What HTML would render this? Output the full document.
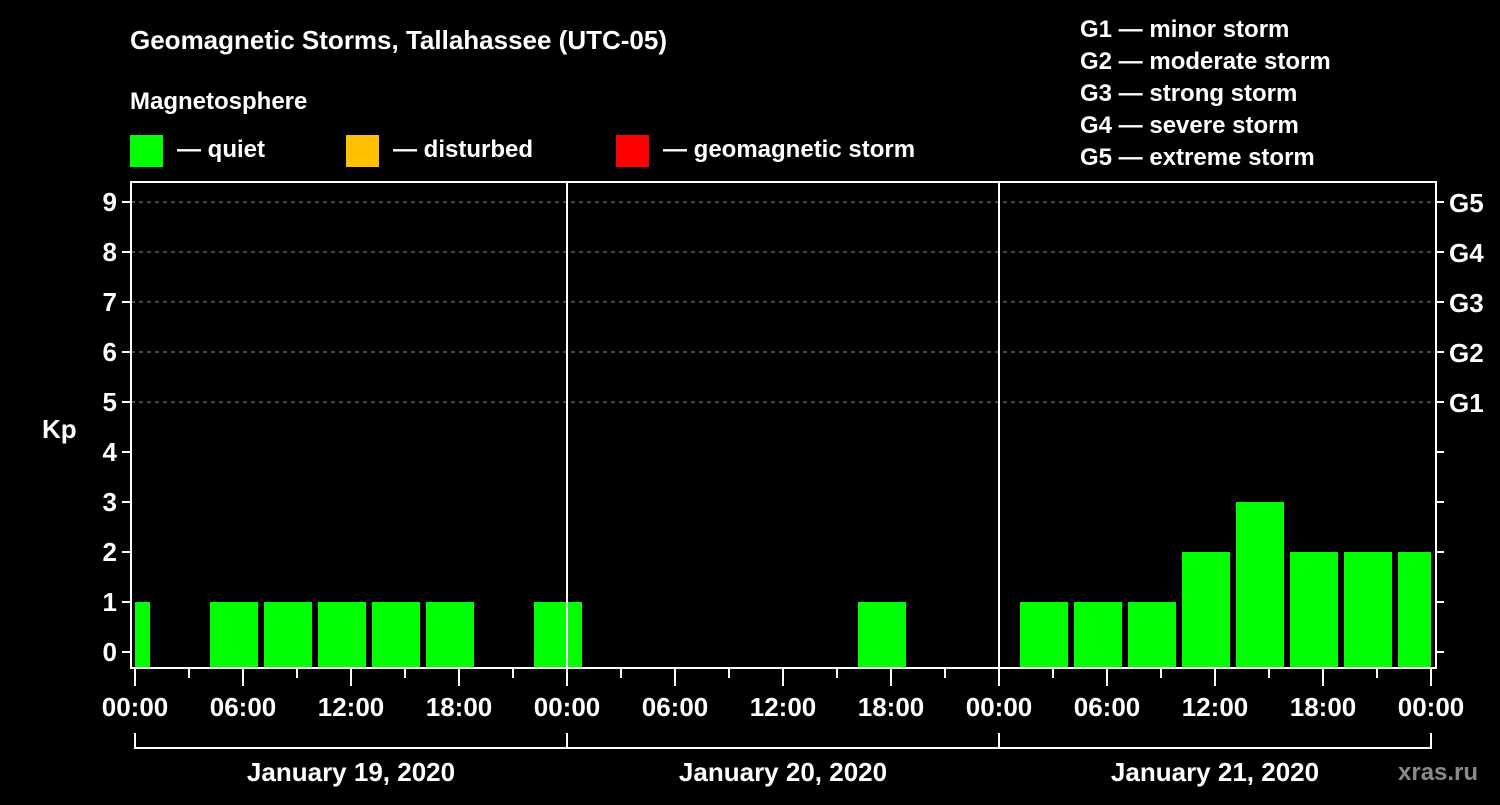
<!DOCTYPE html>
<html><head><meta charset="utf-8"><style>
body{margin:0;background:#000;}
svg text{font-family:"Liberation Sans",sans-serif;font-weight:bold;fill:#fff;}
</style></head><body>
<svg id="c" width="1500" height="800" xmlns="http://www.w3.org/2000/svg">
<rect width="1500" height="800" fill="#000"/>
<text x="130" y="49" font-size="26">Geomagnetic Storms, Tallahassee (UTC-05)</text>
<text x="130" y="109" font-size="24">Magnetosphere</text>
<g><rect x="130" y="135" width="33" height="32" fill="#00ff00"/><text x="177" y="157" font-size="24">— quiet</text></g>
<g><rect x="346" y="135" width="33" height="32" fill="#ffc000"/><text x="393" y="157" font-size="24">— disturbed</text></g>
<g><rect x="616" y="135" width="33" height="32" fill="#ff0000"/><text x="663" y="157" font-size="24">— geomagnetic storm</text></g>
<g font-size="24">
<text x="1080" y="37">G1 — minor storm</text>
<text x="1080" y="69">G2 — moderate storm</text>
<text x="1080" y="101">G3 — strong storm</text>
<text x="1080" y="133">G4 — severe storm</text>
<text x="1080" y="165">G5 — extreme storm</text>
</g>
<text x="42" y="438" font-size="26">Kp</text>
<text x="1398" y="780" font-size="24" fill="#888" style="fill:#8a8a8a">xras.ru</text>
<g id="plot"></g>
</svg>
<script>
const kpValues=[1,0,1,1,1,1,1,0,1, 0,0,0,0,0,1,0,0, 1,1,1,2,3,2,2,2];
const intervalStartHours=[-2,1,4,7,10,13,16,19,22,25,28,31,34,37,40,43,46,49,52,55,58,61,64,67,70];
const dayLabels=["January 19, 2020","January 20, 2020","January 21, 2020"];
const gLabels=["G1","G2","G3","G4","G5"];
const hourLabels=["00:00","06:00","12:00","18:00"];

const NS="http://www.w3.org/2000/svg";
const g=document.getElementById('plot');
const X0=135,PX_H=18,H_MAX=72;
const L=131,R=1436,T=182,B=668;
const x=h=>X0+Math.max(0,Math.min(H_MAX,h))*PX_H;
const y=v=>652-v*50;
function el(t,a,txt){const e=document.createElementNS(NS,t);for(const k in a)e.setAttribute(k,a[k]);if(txt!==undefined)e.textContent=txt;g.appendChild(e);return e;}

// grid
for(let v=5;v<=9;v++){
  const l=el('line',{x1:L,x2:R,y1:y(v),y2:y(v),stroke:'#888','stroke-dasharray':'4,4','stroke-width':1});
  
  
}
// bars
kpValues.forEach((v,i)=>{
  if(v<=0)return;
  const h0=intervalStartHours[i],h1=h0+3;
  const x1=h0<0?x(0):x(h0)+3, x2=h1>H_MAX?x(H_MAX):x(h1)-3;
  const col=v>=5?'#ff0000':(v>=4?'#ffc000':'#00ff00');
  const r=el('rect',{x:x1,y:y(v),width:x2-x1,height:B-y(v),fill:col});
  
  
});
// day separators
for(let d=1;d<3;d++){
  const l=el('line',{x1:x(d*24),x2:x(d*24),y1:T,y2:B,stroke:'#fff','stroke-width':2});
  
  
}
// frame
const f=el('rect',{x:L,y:T,width:R-L,height:B-T,fill:'none',stroke:'#fff','stroke-width':2});


// y ticks
for(let v=0;v<=9;v++){
  el('line',{x1:L-9,x2:L,y1:y(v),y2:y(v),stroke:'#fff','stroke-width':2});
  el('line',{x1:R,x2:R+8,y1:y(v),y2:y(v),stroke:'#fff','stroke-width':2});
  const t=el('text',{x:L-14,y:y(v)+9,'font-size':26,'text-anchor':'end'},String(v));
  
  
}
gLabels.forEach((s,i)=>{
  const t=el('text',{x:1449,y:y(5+i)+10,'font-size':26},s);
  
  
});
// x ticks
for(let h=0;h<=H_MAX;h+=3){
  const major=h%6===0;
  el('line',{x1:x(h),x2:x(h),y1:B,y2:B+(major?18:10),stroke:'#fff','stroke-width':2});
  if(major){
    const t=el('text',{x:x(h),y:716,'font-size':26,'text-anchor':'middle'},hourLabels[(h%24)/6]);
    
    
  }
}
// day brackets
el('line',{x1:x(0),x2:x(72),y1:748,y2:748,stroke:'#fff','stroke-width':2});
for(let d=0;d<=3;d++) el('line',{x1:x(d*24),x2:x(d*24),y1:733,y2:749,stroke:'#fff','stroke-width':2});
dayLabels.forEach((s,d)=>{
  const t=el('text',{x:x(d*24+12),y:781,'font-size':26,'text-anchor':'middle'},s);
  
  
});
</script>
</body></html>
